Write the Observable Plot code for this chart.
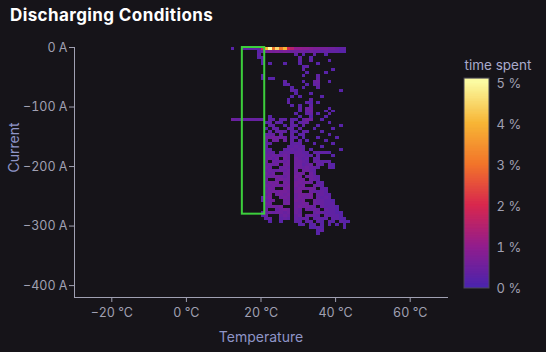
<!DOCTYPE html>
<html><head><meta charset="utf-8">
<script src="https://cdn.jsdelivr.net/npm/d3@7"></script>
<script src="https://cdn.jsdelivr.net/npm/@observablehq/plot@0.6"></script>
<style>
html,body{margin:0;padding:0;background:#161419;}
#chart{width:546px;height:352px;position:relative;overflow:hidden;font-family:Inter, sans-serif;background:#161419;}
#title{position:absolute;left:10px;top:5px;color:#ffffff;font-weight:700;font-size:17px;letter-spacing:0.4px;}
#row{position:absolute;left:0;top:34px;display:flex;}
</style></head><body>
<div id="chart"><div id="title">Discharging Conditions</div><div id="row"></div></div>
<script>
// Axis ticks
const tempTicks = [-20, 0, 20, 40, 60];
const currentTicks = [0, -100, -200, -300, -400];
const legendTicks = [0, 1, 2, 3, 4, 5];

// Heatmap bins: columns are 1 °C wide starting at 12 °C, rows are 5 A tall starting at 0 A going down
const tempStart = 12;
const tempStep = 1;
const currentStep = 5;
// level code -> time spent (%)
const levelCodes = "123456789abcdefghi";
const levelValues = [0.1,0.2,0.3,0.4,0.5,0.6,0.7,0.8,0.9,1.0,1.5,2.0,2.5,3.0,3.5,4.0,4.5,5.0];
const grid = [
"2..33333cgiehegcbaa998776655433",
".......246767676555545443433322",
".......3.........3.2..3..2",
".......23.........3..2",
"........2.........3..3....2",
"........2.2...2...2....2",
"...................23",
"...................3.......2",
"....................2....2",
"........2..........2...3",
"........2.22...........3",
"..............3....2..45..2",
"..............23....2.34",
"................2..2...3",
"................32...........2",
".................2...2",
"................2.2.....2",
"...............2.....3",
"...............3....32.2",
"................2.2..3",
"..................3.54....2",
"..................2.45...2.2",
".................2..34.2..3",
"..........2.......2..2...2",
"544444444.33.33.32.365..2",
".........23.32..3.244.....2",
"..........33..2.33.3...2.....2",
".........2.33..33.3...2....2",
"..........3.343.32.33...2",
".........344.3..3.23......2",
".........556554.33.2...2....2",
".........4.55.5.3.3.2....2",
".........33.....333...2....2",
".........3.....33433....2",
".........33...334343.2.......2",
".........343.34434433.33332",
".........4454454.44433.3...2",
".........4535.54.5434.33",
".........5.54545.5543.44333",
".........4545.55.55345.43.32",
".........54..454.5545443..32",
".........4544545.5.5543",
".........545..55.565.53",
".........4556545.65.5543",
".........5..5655.566.543",
".........4656.65.66565.33",
".........5565656.656..543",
".........465..66.566565.33",
".........5565665.66..54343",
".........46.5656.56656.4433",
"........356..565.56556.4343",
"........3456..55.656..544332",
".........55...56.5565.544333",
".........45656...565654.43332",
".........5..4565.54.5454.4332",
"........34545545.54...45433322",
"........24...454.45.4543.43332",
".........34..343.4343.3433.3322",
"..........2..2...33.33.32.32.322",
"..................23.23.2.2.2.2",
".....................2232.....2",
".......................23",
".......................2"
];

// Highlighted window
const highlightTemps = [15, 21];
const highlightCurrents = [-280, 0];

const colorStops = ["#4a24ad", "#921d8d", "#d8274e", "#f2742a", "#f7b535", "#fbfba2"];
const colorInterp = d3.piecewise(d3.interpolateRgb, colorStops);

const cells = [];
grid.forEach((row, r) => {
  for (let p = 0; p < row.length; p++) {
    const k = levelCodes.indexOf(row[p]);
    if (k < 0) continue;
    cells.push({
      t0: tempStart + p * tempStep,
      t1: tempStart + (p + 1) * tempStep,
      c0: -currentStep * r,
      c1: -currentStep * (r + 1),
      v: levelValues[k]
    });
  }
});

const minus = n => (n < 0 ? "\u2212" : "") + Math.abs(n);
const textColor = "#a0a0b2";
const labelColor = "#8f95c8";

const main = Plot.plot({
  width: 455, height: 318,
  marginLeft: 74, marginRight: 8, marginTop: 13, marginBottom: 55,
  style: {background: "transparent", color: textColor, fontFamily: "Inter, sans-serif", fontSize: "12.5px"},
  x: {domain: [-30, 70], ticks: tempTicks, tickFormat: d => `${minus(d)} °C`, tickSize: 5, tickPadding: 6, line: true, label: null},
  y: {domain: [-420, 0], ticks: currentTicks, tickFormat: d => `${minus(d)} A`, tickSize: 5, tickPadding: 2, line: true, label: null},
  color: {type: "linear", domain: [0, 5], interpolate: colorInterp},
  marks: [
    Plot.rect(cells, {x1: "t0", x2: "t1", y1: "c0", y2: "c1", fill: "v", shapeRendering: "crispEdges"}),
    Plot.rect([{}], {x1: () => highlightTemps[0], x2: () => highlightTemps[1], y1: () => highlightCurrents[0], y2: () => highlightCurrents[1], fill: "none", stroke: "#3ccf3c", strokeWidth: 2}),
    Plot.text(["Current"], {text: d => d, frameAnchor: "left", dx: -60, rotate: -90, fill: labelColor, fontSize: 14}),
    Plot.text(["Temperature"], {text: d => d, frameAnchor: "bottom", dy: 44, fill: labelColor, fontSize: 14})
  ]
});

const gradientSteps = d3.range(0, 5.12, 0.04);
const legend = Plot.plot({
  width: 91, height: 318,
  marginLeft: 9, marginRight: 57, marginTop: 49, marginBottom: 64,
  style: {background: "transparent", color: textColor, fontFamily: "Inter, sans-serif", fontSize: "13px"},
  x: {domain: [0, 1], axis: null},
  y: {domain: [0, 5], ticks: legendTicks, tickFormat: d => `${d} %`, axis: "right", tickSize: 0, tickPadding: 7, label: null},
  color: {type: "linear", domain: [0, 5], interpolate: colorInterp},
  marks: [
    Plot.rect(gradientSteps, {x1: () => 0, x2: () => 1, y1: d => d, y2: d => Math.min(d + 0.06, 5.12), fill: d => Math.min(d, 5)}),
    Plot.rect([{}], {x1: () => 0, x2: () => 1, y1: () => 0, y2: () => 5.12, fill: "none", stroke: "#4a4855"}),
    Plot.text(["time spent"], {text: d => d, frameAnchor: "top-left", dy: -23, textAnchor: "start", fill: "#a9abcc", fontSize: 13.5})
  ]
});

const rowEl = document.getElementById("row");
rowEl.appendChild(main);
rowEl.appendChild(legend);
</script>
</body></html>
